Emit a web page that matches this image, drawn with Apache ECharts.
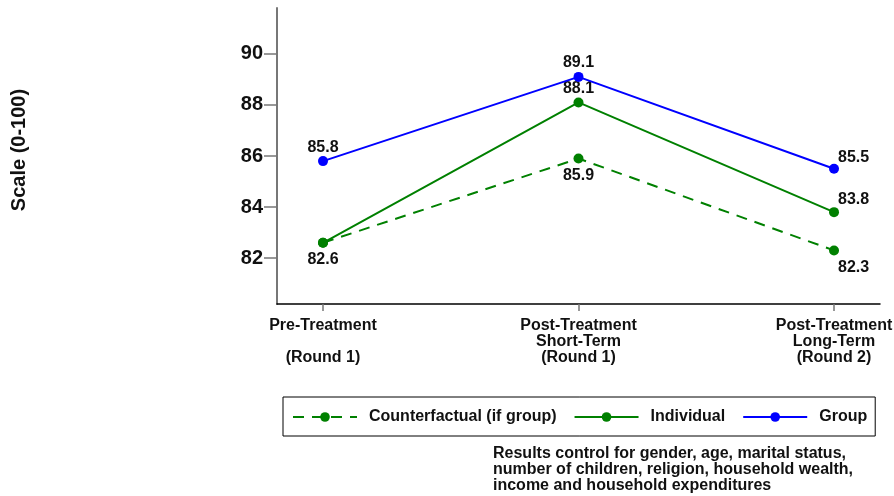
<!DOCTYPE html>
<html>
<head>
<meta charset="utf-8">
<script src="https://cdn.jsdelivr.net/npm/echarts@6/dist/echarts.min.js"></script>
<style>
  html, body { margin: 0; padding: 0; background: #fff; }
  #chart { width: 894px; height: 496px; }
</style>
</head>
<body>
<div id="chart"></div>
<script>
// values
let xLabels = ['Pre-Treatment\n\n(Round 1)', 'Post-Treatment\nShort-Term\n(Round 1)', 'Post-Treatment\nLong-Term\n(Round 2)'];
let yTicks = [82, 84, 86, 88, 90];
let counterVals = [82.6, 85.9, 82.3];
let individualVals = [82.6, 88.1, 83.8];
let groupVals = [85.8, 89.1, 85.5];
let seriesNames = ['Counterfactual (if group)', 'Individual', 'Group'];
let note = 'Results control for gender, age, marital status,\nnumber of children, religion, household wealth,\nincome and household expenditures';

let font = 'Liberation Sans';
let green = '#008000', blue = '#0000ff';

// label placement for each point: [position, offset] or null for no label
let counterLabels = [['bottom', [0, -1]], ['bottom', [0, -1]], ['right', [-6, 17]]];
let individualLabels = [null, ['top', [0, 4]], ['right', [-6, -13]]];
let groupLabels = [['top', [0, 4]], ['top', [0, 4]], ['right', [-6, -11]]];

function points(vals, labels) {
    let out = [];
    for (let i = 0; i < vals.length; i++) {
        let p = { value: [i, vals[i]] };
        if (labels[i]) {
            p.label = { show: true, position: labels[i][0], offset: labels[i][1] };
        } else {
            p.label = { show: false };
        }
        out.push(p);
    }
    return out;
}

let labelStyle = {
    fontFamily: font, fontWeight: 'bold', fontSize: 16, color: '#111',
    formatter: function (p) { return p.value[1].toFixed(1); }
};

let option = {
    animation: false,
    grid: { left: 277, right: 14, top: 8, bottom: 192, outerBoundsMode: 'none' },
    legend: {
        data: seriesNames,
        left: 283, top: 397,
        orient: 'horizontal',
        itemWidth: 64, itemHeight: 12, itemGap: 17,
        padding: [12, 8, 11, 9],
        borderColor: '#000', borderWidth: 1,
        textStyle: { fontFamily: font, fontWeight: 'bold', fontSize: 16, color: '#111', padding: [0, 0, 0, 7] }
    },
    xAxis: {
        type: 'value', min: -0.18, max: 2.18,
        splitLine: { show: false },
        axisLine: { show: true, onZero: false, lineStyle: { color: '#000', width: 1.5 } },
        axisTick: { show: true, customValues: [0, 1, 2], length: 7, lineStyle: { color: '#777', width: 1.5 } },
        axisLabel: {
            customValues: [0, 1, 2], margin: 14,
            fontFamily: font, fontWeight: 'bold', fontSize: 16, lineHeight: 16, color: '#111',
            formatter: function (v) { return xLabels[Math.round(v)]; }
        }
    },
    yAxis: {
        type: 'value', min: 80.2, max: 91.8,
        splitLine: { show: false },
        axisLine: { show: true, onZero: false, lineStyle: { color: '#777', width: 2 } },
        axisTick: { show: true, customValues: yTicks, length: 13, lineStyle: { color: '#777', width: 1.5 } },
        axisLabel: {
            customValues: yTicks, margin: 14,
            fontFamily: font, fontWeight: 'bold', fontSize: 20, color: '#111'
        }
    },
    graphic: [
        {
            type: 'text', x: 19, y: 150, rotation: Math.PI / 2,
            style: { text: 'Scale (0-100)', fontFamily: font, fontWeight: 'bold', fontSize: 20, fill: '#111', align: 'center', verticalAlign: 'middle' }
        },
        {
            type: 'text', left: 493, top: 446,
            style: { text: note, fontFamily: font, fontWeight: 'bold', fontSize: 16, lineHeight: 16, fill: '#111' }
        }
    ],
    series: [
        {
            name: seriesNames[0], type: 'line',
            data: points(counterVals, counterLabels),
            symbol: 'circle', symbolSize: 10,
            itemStyle: { color: green },
            lineStyle: { color: green, width: 2, type: [11, 8] },
            label: labelStyle, z: 2
        },
        {
            name: seriesNames[1], type: 'line',
            data: points(individualVals, individualLabels),
            symbol: 'circle', symbolSize: 10,
            itemStyle: { color: green },
            lineStyle: { color: green, width: 2 },
            label: labelStyle, z: 3
        },
        {
            name: seriesNames[2], type: 'line',
            data: points(groupVals, groupLabels),
            symbol: 'circle', symbolSize: 10,
            itemStyle: { color: blue },
            lineStyle: { color: blue, width: 2 },
            label: labelStyle, z: 4
        }
    ]
};

let myChart = echarts.init(document.getElementById('chart'));
myChart.setOption(option);
</script>
</body>
</html>
